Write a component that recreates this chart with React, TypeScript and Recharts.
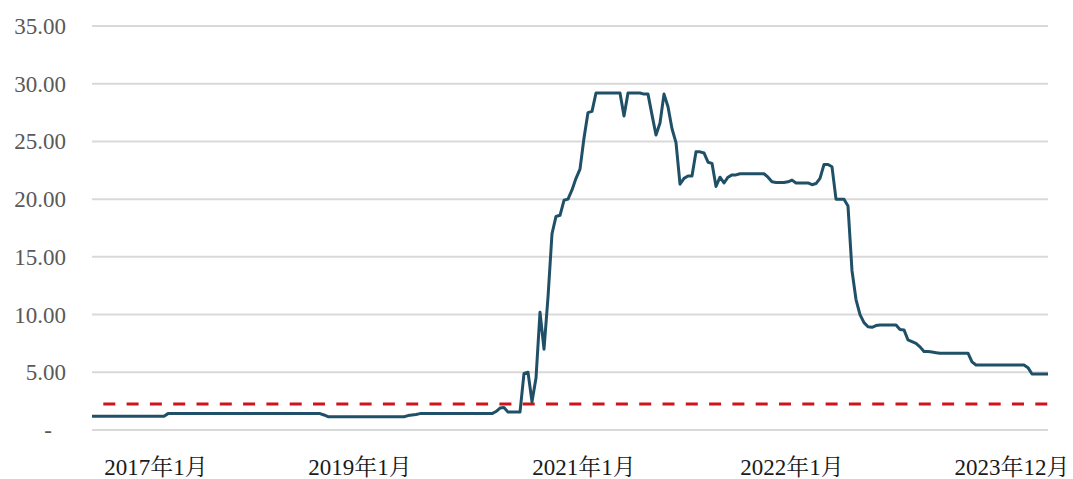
import React from "react";
import { LineChart, Line, XAxis, YAxis, CartesianGrid } from "recharts";

// freight index, one reading per step; low and flat until late 2020
const preSurge = [
  1.2, 1.2, 1.2, 1.2, 1.2, 1.2, 1.2, 1.2, 1.2, 1.2, 1.2, 1.2, 1.2, 1.2, 1.2, 1.2, 1.2, 1.2, 1.2,
  1.42, 1.42, 1.42, 1.42, 1.42, 1.42, 1.42, 1.42, 1.42, 1.42, 1.42, 1.42, 1.42, 1.42, 1.42, 1.42, 1.42, 1.42, 1.42, 1.42,
  1.42, 1.42, 1.42, 1.42, 1.42, 1.42, 1.42, 1.42, 1.42, 1.42, 1.42, 1.42, 1.42, 1.42, 1.42, 1.42, 1.42, 1.42, 1.42,
  1.3,
  1.15, 1.15, 1.15, 1.15, 1.15, 1.15, 1.15, 1.15, 1.15, 1.15, 1.15, 1.15, 1.15, 1.15, 1.15, 1.15, 1.15, 1.15, 1.15, 1.15,
  1.25, 1.3, 1.35,
  1.42, 1.42, 1.42, 1.42, 1.42, 1.42, 1.42, 1.42, 1.42, 1.42, 1.42, 1.42, 1.42, 1.42, 1.42, 1.42, 1.42, 1.42, 1.42,
  1.6, 1.9, 1.95, 1.55, 1.55, 1.55, 1.55,
];

const surge = [
  4.9, 5.0, 2.45, 4.5, 10.2, 7.0, 11.5, 17.0, 18.5, 18.6, 19.9, 20.0, 20.8, 21.8, 22.6, 25.3, 27.5, 27.6,
];

const peak = [
  29.2, 29.2, 29.2, 29.2, 29.2, 29.2, 29.2, 27.2, 29.2, 29.2, 29.2, 29.2, 29.1,
  29.1, 27.3, 25.55, 26.6, 29.1, 28.0, 26.1, 24.9,
];

const plateau = [
  21.3, 21.8, 22.0, 22.0, 24.1, 24.1, 24.0, 23.2, 23.1, 21.1, 21.9, 21.4, 21.9, 22.1, 22.1,
  22.2, 22.2, 22.2, 22.2, 22.2, 22.2, 22.2,
  21.9, 21.5, 21.45, 21.45, 21.45, 21.5, 21.65, 21.4, 21.4, 21.4, 21.4, 21.25, 21.35, 21.8,
  23.0, 23.0, 22.8, 20.0, 20.0, 20.0, 19.4,
];

const decline = [
  13.8, 11.3, 10.0, 9.3, 8.95, 8.9, 9.05, 9.1, 9.1, 9.1, 9.1, 9.1,
  8.7, 8.67, 7.8, 7.65, 7.5, 7.2, 6.8, 6.8, 6.75, 6.7,
  6.65, 6.65, 6.65, 6.65, 6.65, 6.65, 6.65, 6.65,
  5.9, 5.63, 5.63, 5.63, 5.63, 5.63, 5.63, 5.63, 5.63, 5.63, 5.63, 5.63, 5.63, 5.63,
  5.4, 4.85, 4.85, 4.85, 4.85, 4.85,
];

const BASELINE = 2.25;

const tickLabels = ["2017年1月", "2019年1月", "2021年1月", "2022年1月", "2023年12月"];
const tickIdx = [16, 67, 123, 175, 230];
const yTicks = [0, 5, 10, 15, 20, 25, 30, 35];

const series = [...preSurge, ...surge, ...peak, ...plateau, ...decline];
const data = series.map((v, i) => ({ i, v, base: BASELINE }));

const FONT = "'Times New Roman', 'Liberation Serif', 'Noto Serif CJK SC', 'Noto Sans CJK SC', serif";

function YTick(props: any) {
  const { x, y, payload } = props;
  const zero = payload.value === 0;
  return (
    <text
      x={zero ? x - 14 : x}
      y={y}
      dy="0.35em"
      textAnchor="end"
      fill="#595959"
      fontSize={23}
      fontFamily={FONT}
    >
      {zero ? "-" : payload.value.toFixed(2)}
    </text>
  );
}

export default function App() {
  return (
    <div style={{ position: "absolute", left: 0, top: 0, background: "#fff" }}>
      <LineChart width={1073} height={479} data={data} margin={{ top: 26, right: 25, bottom: 0, left: 0 }}>
        <CartesianGrid stroke="#d9d9d9" strokeWidth={2} vertical={false} />
        <XAxis
          dataKey="i"
          type="number"
          domain={[0, series.length - 1]}
          ticks={tickIdx}
          tickFormatter={(v) => tickLabels[tickIdx.indexOf(v)] ?? ""}
          axisLine={false}
          tickLine={false}
          height={49}
          tickSize={0}
          tickMargin={29}
          interval={0}
          tick={{ fill: "#1a1a1a", fontSize: 23, fontFamily: FONT }}
        />
        <YAxis
          width={92}
          domain={[0, 35]}
          ticks={yTicks}
          axisLine={false}
          tickLine={false}
          tickSize={0}
          tickMargin={26}
          tick={<YTick />}
        />
        <Line
          dataKey="base"
          stroke="#d0121b"
          strokeWidth={3}
          strokeDasharray="12 11.3"
          strokeDashoffset={12}
          dot={false}
          isAnimationActive={false}
        />
        <Line
          dataKey="v"
          stroke="#1f5068"
          strokeWidth={3}
          dot={false}
          isAnimationActive={false}
          strokeLinejoin="round"
        />
      </LineChart>
    </div>
  );
}
